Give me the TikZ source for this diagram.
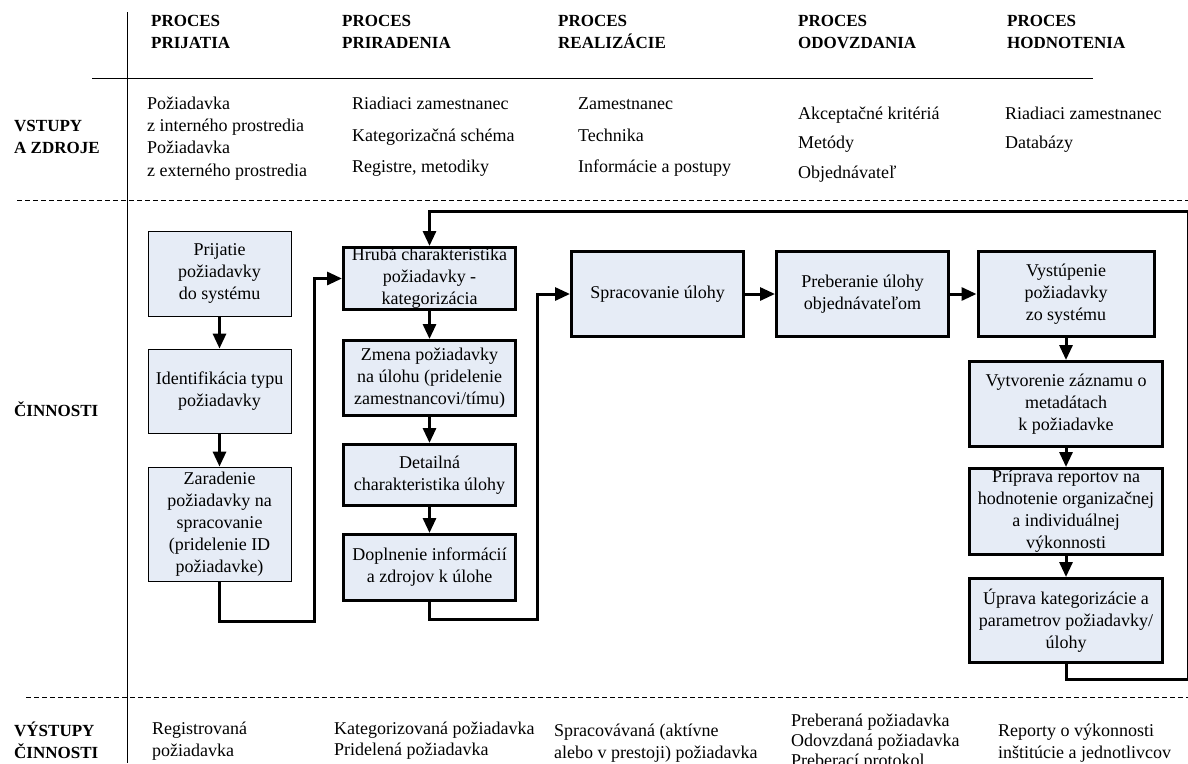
\documentclass[tikz,border=0pt]{standalone}
\usepackage{fontspec}
\setmainfont{Liberation Serif}
\usetikzlibrary{arrows.meta}
\definecolor{boxfill}{RGB}{230,236,246}

\begin{document}
\begin{tikzpicture}[x=1pt, y=-1pt,
  every node/.style={font=\fontsize{18}{22}\selectfont},
  txt/.style={anchor=base west, align=left, inner sep=0pt},
  head/.style={txt, font=\fontsize{17}{22}\selectfont\bfseries},
  boxa/.style={draw, fill=boxfill, align=center, inner xsep=2pt, inner ysep=0pt, line width=0.8pt},
  boxb/.style={boxa, line width=3pt},
  arr/.style={line width=3pt, -{Triangle[length=15pt, width=13pt]}},
  lane/.style={line width=0.8pt},
  sep/.style={line width=0.8pt, dash pattern=on 5pt off 3pt}]
\useasboundingbox (0, 0) rectangle (1188, 763);

\draw[lane] (127, 12) -- (127, 763);
\draw[lane] (92, 78) -- (1093, 78);
\draw[sep] (17, 200) -- (1188, 200);
\draw[sep] (26, 697) -- (1188, 697);

\node (hd1) at (151, 48) [head] {PROCES\\PRIJATIA};
\node (hd2) at (342, 48) [head] {PROCES\\PRIRADENIA};
\node (hd3) at (558, 48) [head] {PROCES\\REALIZÁCIE};
\node (hd4) at (798, 48) [head] {PROCES\\ODOVZDANIA};
\node (hd5) at (1007, 48) [head] {PROCES\\HODNOTENIA};

\node (rv) at (14, 153) [head] {VSTUPY\\A ZDROJE};
\node (rc) at (14, 416) [head] {ČINNOSTI};
\node (ro) at (14, 758) [head] {VÝSTUPY\\ČINNOSTI};

\node (in1) at (147, 176) [txt, font=\fontsize{18}{22.3}\selectfont] {Požiadavka\\z interného prostredia\\Požiadavka\\z externého prostredia};
\node (in2) at (352, 172) [txt] {Riadiaci zamestnanec\\[10pt]Kategorizačná schéma\\[9pt]Registre, metodiky};
\node (in3) at (578, 172) [txt] {Zamestnanec\\[10pt]Technika\\[9pt]Informácie a postupy};
\node (in4) at (798, 178) [txt] {Akceptačné kritériá\\[7.5pt]Metódy\\[7.5pt]Objednávateľ};
\node (in5) at (1005, 148.5) [txt] {Riadiaci zamestnanec\\[7.5pt]Databázy};

\node (b1) at (219.5, 273.5) [boxa, minimum width=143pt, minimum height=85pt] {Prijatie\\požiadavky\\do systému};
\node (b2) at (219.5, 391) [boxa, minimum width=143pt, minimum height=84pt] {Identifikácia typu\\požiadavky};
\node (b3) at (219.5, 524) [boxa, minimum width=143pt, minimum height=114pt] {Zaradenie\\požiadavky na\\spracovanie\\(pridelenie ID\\požiadavke)};

\draw[arr] (b1.south) -- (b2.north);
\draw[arr] (b2.south) -- (b3.north);

\node (h1) at (429.5, 278.5) [boxb, minimum width=172pt, minimum height=62pt] {Hrubá charakteristika\\požiadavky -\\kategorizácia};
\node (h2) at (429.5, 378) [boxb, minimum width=172pt, minimum height=75pt] {Zmena požiadavky\\na úlohu (pridelenie\\zamestnancovi/tímu)};
\node (h3) at (429.5, 475) [boxb, minimum width=172pt, minimum height=61pt] {Detailná\\charakteristika úlohy};
\node (h4) at (429.5, 567.5) [boxb, minimum width=172pt, minimum height=66pt] {Doplnenie informácií\\a zdrojov k úlohe};

\draw[arr] (h1.south) -- (h2.north);
\draw[arr] (h2.south) -- (h3.north);
\draw[arr] (h3.south) -- (h4.north);

\coordinate (k1) at (314, 621);
\draw[arr] (b3.south) |- (k1) |- (h1.west);

\node (s1) at (657.5, 294) [boxb, minimum width=172pt, minimum height=85pt] {Spracovanie úlohy};
\node (p1) at (862.5, 294) [boxb, minimum width=172pt, minimum height=85pt] {Preberanie úlohy\\objednávateľom};

\coordinate (k2) at (537, 619);
\draw[arr] (h4.south) |- (k2) |- (s1.west);
\draw[arr] (s1.east) -- (p1.west);

\node (v1) at (1066, 294) [boxb, minimum width=176pt, minimum height=85pt] {Vystúpenie\\požiadavky\\zo systému};
\node (v2) at (1066, 404) [boxb, minimum width=193pt, minimum height=85pt] {Vytvorenie záznamu o\\metadátach\\k požiadavke};
\node (v3) at (1066, 511.5) [boxb, minimum width=193pt, minimum height=86pt] {Príprava reportov na\\hodnotenie organizačnej\\a individuálnej\\výkonnosti};
\node (v4) at (1066, 620.5) [boxb, minimum width=193pt, minimum height=84pt] {Úprava kategorizácie a\\parametrov požiadavky/\\úlohy};

\draw[arr] (p1.east) -- (v1.west);
\draw[arr] (v1.south) -- (v2.north);
\draw[arr] (v2.south) -- (v3.north);
\draw[arr] (v3.south) -- (v4.north);

\coordinate (k3) at (1188.5, 679);
\coordinate (k4) at (1188.5, 211);
\draw[arr] (v4.south) |- (k3) -- (k4) -| (h1.north);

\node (out1) at (152, 756) [txt] {Registrovaná\\požiadavka};
\node (out2) at (334, 755) [txt, font=\fontsize{18}{21}\selectfont] {Kategorizovaná požiadavka\\Pridelená požiadavka};
\node (out3) at (554, 758) [txt] {Spracovávaná (aktívne\\alebo v prestoji) požiadavka};
\node (out4) at (791, 766) [txt, font=\fontsize{18}{20}\selectfont] {Preberaná požiadavka\\Odovzdaná požiadavka\\Preberací protokol};
\node (out5) at (998, 758) [txt] {Reporty o výkonnosti\\inštitúcie a jednotlivcov};
\end{tikzpicture}
\end{document}
